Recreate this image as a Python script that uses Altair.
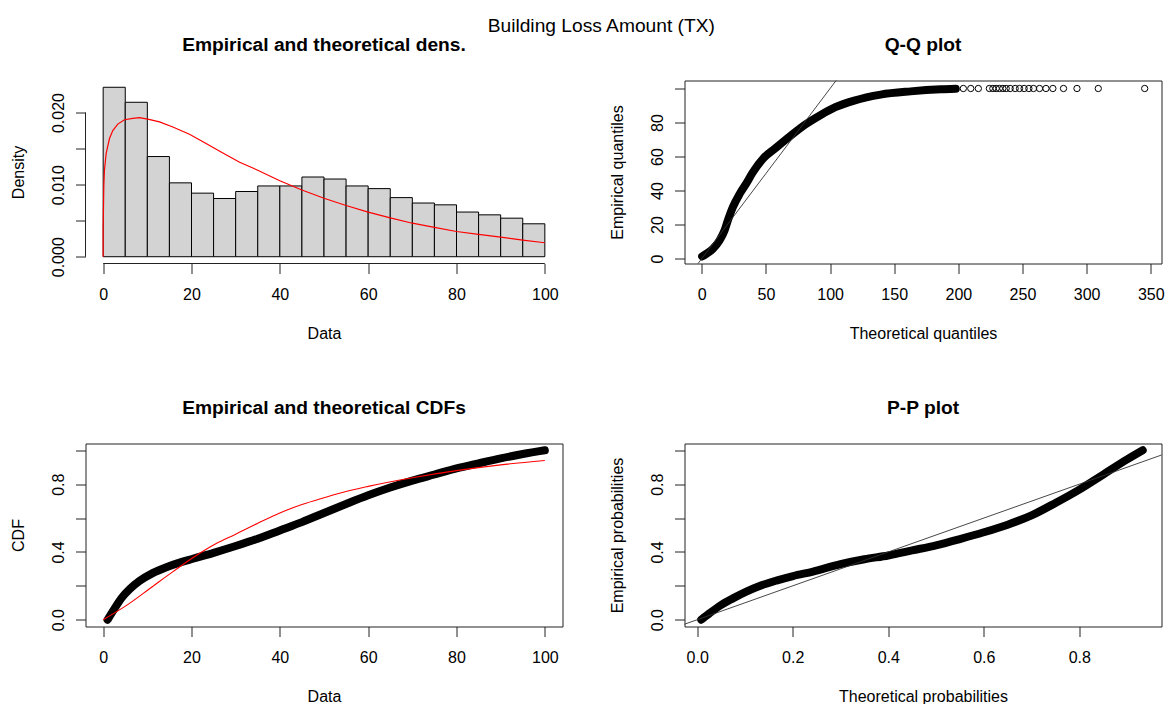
import altair as alt
import pandas as pd

FONT = "Liberation Sans"
W, H = 477, 183  # plot area of each panel

# ---- histogram of the losses (bin width 5) ----
bin_left = list(range(0, 100, 5))
bin_density = [0.02351, 0.02143, 0.01390, 0.01025, 0.00882, 0.00808, 0.00905,
               0.00982, 0.00982, 0.01106, 0.01078, 0.00982, 0.00945, 0.00820,
               0.00745, 0.00720, 0.00620, 0.00581, 0.00535, 0.00457]

# fitted density curve
dens_x = [0, 0, 0.15, 0.29, 0.67, 1.43, 2.18, 3.31, 4.82, 6.71, 8.22, 10.1, 12.75,
          15.77, 19.54, 23.3, 27.1, 30.9, 35, 40, 45, 50, 55, 60, 65, 70, 75, 80,
          85, 90, 95, 100]
dens_y = [0.0, 0.0041, 0.0099, 0.0120, 0.0143, 0.0164, 0.0175, 0.0184, 0.0190,
          0.0192, 0.0193, 0.0191, 0.0187, 0.0180, 0.0170, 0.0157, 0.0144, 0.0131,
          0.0120, 0.01055, 0.00926, 0.00811, 0.0071, 0.00618, 0.00539, 0.00465,
          0.00406, 0.0035, 0.00309, 0.00272, 0.0023, 0.00194]

# ---- Q-Q plot ----
qq_theo = [0.3, 3.4, 8.6, 13.8, 17.7, 20.3, 24.2, 29.5, 34.7, 39.6, 48.4, 57.2,
           68.9, 80.7, 92.4, 104.1, 118.8, 139.4, 162.8, 186.3, 198.0]
qq_emp = [1.2, 2.7, 5.7, 10.6, 16.5, 22.4, 30.2, 38.0, 44.2, 50.5, 59.3, 64.8,
          72.0, 78.8, 84.3, 89.0, 92.9, 96.4, 98.3, 99.5, 99.8]
qq_tail_theo = [203.9, 209.7, 215.6, 224.2, 226.9, 229.5, 232.0, 234.7, 237.3,
                240.4, 244.3, 247.7, 251.3, 255.0, 258.6, 263.3, 268.3, 273.7,
                282.0, 292.5, 309.1, 345.3]
qq_tail_emp = [100.0] * len(qq_tail_theo)
ref_line = [-50.0, 400.0]

# ---- empirical and fitted CDFs ----
ecdf_x = [1.0, 2.6, 4.1, 6.0, 8.2, 11.2, 14.3, 17.3, 20.3, 25, 30, 35, 40, 45, 50,
          55, 60, 65, 70, 75, 80, 85, 90, 95, 100]
ecdf_y = [0.0, 0.067, 0.126, 0.18, 0.228, 0.275, 0.31, 0.337, 0.36, 0.395, 0.435,
          0.478, 0.527, 0.576, 0.63, 0.683, 0.734, 0.78, 0.821, 0.857, 0.893, 0.923,
          0.952, 0.978, 1.0]
fit_x = [0, 5.2, 10.5, 15.8, 20.3, 25.6, 30, 35, 40, 45, 50, 55, 60, 70, 80, 90, 100]
fit_cdf = [0.0, 0.083, 0.183, 0.284, 0.366, 0.45, 0.505, 0.569, 0.63, 0.68, 0.72,
           0.757, 0.787, 0.838, 0.88, 0.914, 0.94]

# ---- P-P plot ----
pp_theo = [0.0084, 0.0258, 0.0468, 0.0747, 0.1028, 0.1307, 0.1657, 0.2006, 0.2425,
           0.3, 0.35, 0.4, 0.45, 0.5, 0.55, 0.6, 0.65, 0.7, 0.75, 0.8, 0.85, 0.9,
           0.9327]
pp_emp = [0.0, 0.038, 0.081, 0.126, 0.166, 0.199, 0.231, 0.258, 0.284, 0.328,
          0.357, 0.379, 0.409, 0.439, 0.476, 0.516, 0.561, 0.616, 0.689, 0.768,
          0.857, 0.946, 1.0]
ref_prob = [-0.5, 1.5]

TICK_COLOR = "#222222"
BAND_WIDTH = 8


def x_axis(title, values, fmt=None):
    opts = dict(title=title, values=values, domain=False, grid=False, ticks=True,
                tickSize=10, tickColor=TICK_COLOR, tickWidth=1,
                labelFont=FONT, labelFontSize=16, labelColor="black",
                labelPadding=26, labelBaseline="alphabetic", labelAlign="center",
                labelAngle=0, labelFlush=False, labelOverlap=False,
                titleFont=FONT, titleFontSize=16, titleFontWeight="normal",
                titleColor="black", titleY=70, titleBaseline="middle")
    if fmt:
        opts["format"] = fmt
    return alt.Axis(**opts)


def y_axis(title, values, label_expr):
    return alt.Axis(title=title, values=values, domain=False, grid=False, ticks=True,
                    tickSize=10, tickColor=TICK_COLOR, tickWidth=1,
                    labelFont=FONT, labelFontSize=16, labelColor="black",
                    labelPadding=12.5, labelBaseline="alphabetic", labelAlign="center",
                    labelAngle=270, labelFlush=False, labelOverlap=False,
                    labelExpr=label_expr,
                    titleFont=FONT, titleFontSize=16, titleFontWeight="normal",
                    titleColor="black", titleAngle=270, titleX=-67,
                    titleBaseline="middle")


def panel_title(text):
    return alt.Title(text, font=FONT, fontSize=19.2, fontWeight="bold", color="black",
                     anchor="middle", frame="group", baseline="alphabetic", offset=10.8)


prob_expr = "round(datum.value*10) % 4 == 0 ? format(datum.value, '.1f') : ''"

# ===== panel 1: histogram with fitted density =====
hx = alt.Scale(domain=[-4, 104], nice=False, zero=False)
hy = alt.Scale(domain=[-0.00094, 0.02445], nice=False, zero=False)
hx_axis = x_axis("Data", [0, 20, 40, 60, 80, 100], "d")
hy_axis = y_axis("Density", [0, 0.005, 0.01, 0.015, 0.02],
                 "round(datum.value*1000) % 10 == 0 ? format(datum.value, '.3f') : ''")

hist_df = pd.DataFrame({"left": bin_left,
                        "right": [b + 5 for b in bin_left],
                        "density": bin_density})
dens_df = pd.DataFrame({"x": dens_x, "d": dens_y, "i": range(len(dens_x))})
span_df = pd.DataFrame({"a": [0]})

bars = alt.Chart(hist_df).mark_rect(fill="#D3D3D3", stroke="black", strokeWidth=1).encode(
    x=alt.X("left:Q", scale=hx, axis=hx_axis),
    x2="right:Q",
    y=alt.Y("density:Q", scale=hy, axis=hy_axis),
    y2=alt.Y2Datum(0),
)
dens_line = alt.Chart(dens_df).mark_line(color="red", strokeWidth=1.2).encode(
    x=alt.X("x:Q", scale=hx, axis=hx_axis),
    y=alt.Y("d:Q", scale=hy, axis=hy_axis),
    order="i:Q",
)
# R-style axis lines spanning only the first to the last tick
x_axis_line = alt.Chart(span_df).mark_rule(color=TICK_COLOR, strokeWidth=1).encode(
    x=alt.XDatum(0, scale=hx, axis=hx_axis), x2=alt.X2Datum(100), y=alt.value(H))
y_axis_line = alt.Chart(span_df).mark_rule(color=TICK_COLOR, strokeWidth=1).encode(
    y=alt.YDatum(0, scale=hy, axis=hy_axis), y2=alt.Y2Datum(0.02), x=alt.value(0))

hist = alt.layer(bars, dens_line, x_axis_line, y_axis_line).properties(
    width=W, height=H, title=panel_title("Empirical and theoretical dens."),
    view=alt.ViewBackground(strokeOpacity=0))

# ===== panel 2: Q-Q plot =====
qx = alt.Scale(domain=[-13.5, 358.4], nice=False, zero=False)
qy = alt.Scale(domain=[-2.94, 104.7], nice=False, zero=False)
qx_axis = x_axis("Theoretical quantiles", [0, 50, 100, 150, 200, 250, 300, 350], "d")
qy_axis = y_axis("Empirical quantiles", [0, 20, 40, 60, 80, 100],
                 "datum.value < 100 ? format(datum.value, 'd') : ''")
qq_df = pd.DataFrame({"t": qq_theo, "e": qq_emp, "i": range(len(qq_theo))})
qq_tail_df = pd.DataFrame({"t": qq_tail_theo, "e": qq_tail_emp})
ref_df = pd.DataFrame({"v": ref_line})

qq_band = alt.Chart(qq_df).mark_line(color="black", strokeWidth=BAND_WIDTH,
                                     strokeCap="round", strokeJoin="round",
                                     interpolate="monotone").encode(
    x=alt.X("t:Q", scale=qx, axis=qx_axis),
    y=alt.Y("e:Q", scale=qy, axis=qy_axis),
    order="i:Q",
)
qq_tail = alt.Chart(qq_tail_df).mark_point(shape="circle", size=40, filled=False,
                                           color="black", strokeWidth=1, opacity=1).encode(
    x=alt.X("t:Q", scale=qx, axis=qx_axis),
    y=alt.Y("e:Q", scale=qy, axis=qy_axis),
)
qq_ref = alt.Chart(ref_df).mark_line(color="#333333", strokeWidth=0.9, clip=True).encode(
    x=alt.X("v:Q", scale=qx, axis=qx_axis),
    y=alt.Y("v:Q", scale=qy, axis=qy_axis),
)
qq = alt.layer(qq_band, qq_tail, qq_ref).properties(
    width=W, height=H, title=panel_title("Q-Q plot"))

# ===== panel 3: CDFs =====
cx = alt.Scale(domain=[-4, 104], nice=False, zero=False)
cy = alt.Scale(domain=[-0.04, 1.04], nice=False, zero=False)
cx_axis = x_axis("Data", [0, 20, 40, 60, 80, 100], "d")
cy_axis = y_axis("CDF", [0, 0.2, 0.4, 0.6, 0.8, 1.0], prob_expr)
ecdf_df = pd.DataFrame({"x": ecdf_x, "p": ecdf_y, "i": range(len(ecdf_x))})
fit_df = pd.DataFrame({"x": fit_x, "p": fit_cdf, "i": range(len(fit_x))})

ecdf_band = alt.Chart(ecdf_df).mark_line(color="black", strokeWidth=BAND_WIDTH,
                                         strokeCap="round", strokeJoin="round",
                                         interpolate="monotone").encode(
    x=alt.X("x:Q", scale=cx, axis=cx_axis),
    y=alt.Y("p:Q", scale=cy, axis=cy_axis),
    order="i:Q",
)
fit_line = alt.Chart(fit_df).mark_line(color="red", strokeWidth=1.1,
                                       interpolate="monotone").encode(
    x=alt.X("x:Q", scale=cx, axis=cx_axis),
    y=alt.Y("p:Q", scale=cy, axis=cy_axis),
    order="i:Q",
)
cdf = alt.layer(ecdf_band, fit_line).properties(
    width=W, height=H, title=panel_title("Empirical and theoretical CDFs"))

# ===== panel 4: P-P plot =====
px_ = alt.Scale(domain=[-0.0266, 0.972], nice=False, zero=False)
py_ = alt.Scale(domain=[-0.04, 1.04], nice=False, zero=False)
px_axis = x_axis("Theoretical probabilities", [0, 0.2, 0.4, 0.6, 0.8], ".1f")
py_axis = y_axis("Empirical probabilities", [0, 0.2, 0.4, 0.6, 0.8, 1.0], prob_expr)
pp_df = pd.DataFrame({"t": pp_theo, "e": pp_emp, "i": range(len(pp_theo))})
ref_p_df = pd.DataFrame({"v": ref_prob})

pp_band = alt.Chart(pp_df).mark_line(color="black", strokeWidth=BAND_WIDTH,
                                     strokeCap="round", strokeJoin="round",
                                     interpolate="monotone").encode(
    x=alt.X("t:Q", scale=px_, axis=px_axis),
    y=alt.Y("e:Q", scale=py_, axis=py_axis),
    order="i:Q",
)
pp_ref = alt.Chart(ref_p_df).mark_line(color="#333333", strokeWidth=0.9, clip=True).encode(
    x=alt.X("v:Q", scale=px_, axis=px_axis),
    y=alt.Y("v:Q", scale=py_, axis=py_axis),
)
pp = alt.layer(pp_band, pp_ref).properties(
    width=W, height=H, title=panel_title("P-P plot"))

chart = alt.concat(
    hist, qq, cdf, pp, columns=2,
    spacing={"row": 180, "column": 122}, bounds="flush",
).properties(
    title=alt.Title("Building Loss Amount (TX)", font=FONT, fontSize=19.2,
                    fontWeight="normal", color="black", anchor="middle",
                    baseline="alphabetic", offset=-15.7, dx=14),
    padding={"left": 9.5, "top": 16.5, "right": 0, "bottom": 0},
    background="white",
).configure_view(stroke=TICK_COLOR, strokeWidth=1)

chart.save("out.html", embed_options={"renderer": "svg", "actions": False})
